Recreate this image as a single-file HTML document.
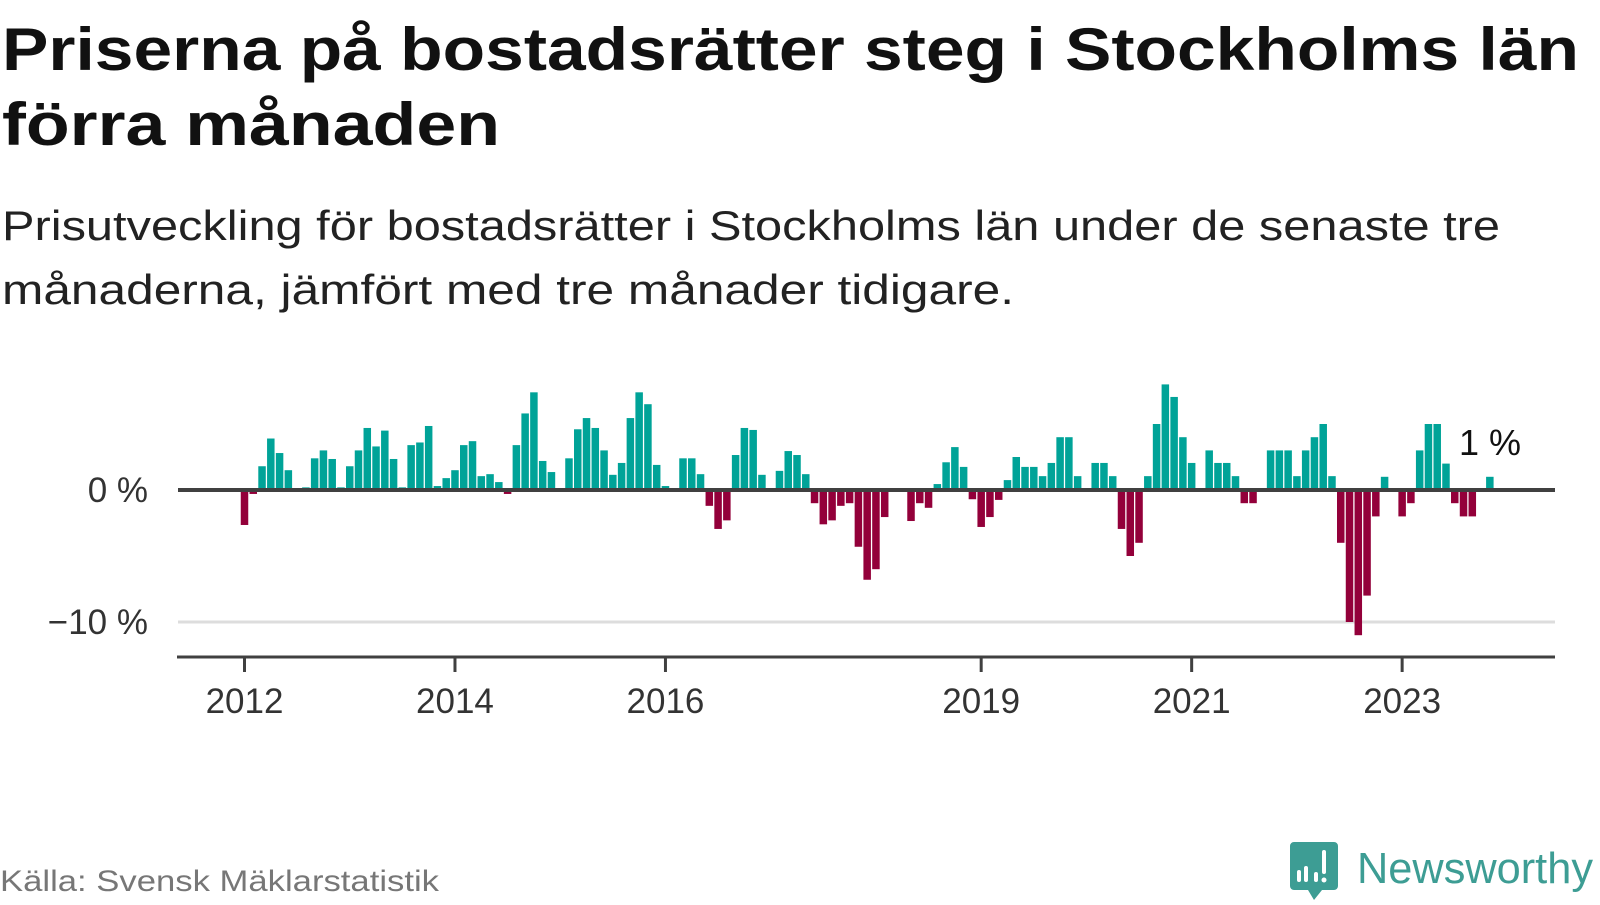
<!DOCTYPE html>
<html><head><meta charset="utf-8"><style>
html,body{margin:0;padding:0;background:#fff;}
body{width:1600px;height:900px;overflow:hidden;font-family:"Liberation Sans",sans-serif;}
svg text{font-family:"Liberation Sans",sans-serif;}
</style></head><body>
<svg id="chart" width="1600" height="900" viewBox="0 0 1600 900" xmlns="http://www.w3.org/2000/svg">
<text x="2" y="70" font-size="60" font-weight="bold" fill="#111" textLength="1577" lengthAdjust="spacingAndGlyphs">Priserna på bostadsrätter steg i Stockholms län</text>
<text x="2" y="145" font-size="60" font-weight="bold" fill="#111" textLength="498" lengthAdjust="spacingAndGlyphs">förra månaden</text>
<text x="2" y="240" font-size="42" fill="#222" textLength="1498" lengthAdjust="spacingAndGlyphs">Prisutveckling för bostadsrätter i Stockholms län under de senaste tre</text>
<text x="2" y="304" font-size="42" fill="#222" textLength="1012" lengthAdjust="spacingAndGlyphs">månaderna, jämfört med tre månader tidigare.</text>
<g id="grid"></g>
<g id="bars"></g>
<g id="axes"></g>
<text x="1459" y="455" font-size="36" fill="#111">1 %</text>
<text x="0" y="891" font-size="30" fill="#777" textLength="439" lengthAdjust="spacingAndGlyphs">Källa: Svensk Mäklarstatistik</text>
<g>
<path d="M1294 842 h40 a4 4 0 0 1 4 4 v40 a4 4 0 0 1 -4 4 h-12 l-8 10 l-6 -10 h-14 a4 4 0 0 1 -4 -4 v-40 a4 4 0 0 1 4 -4z" fill="#3d9d94"/>
<rect x="1297" y="870" width="4" height="12" rx="2" fill="#fff"/>
<rect x="1304" y="866" width="4" height="16" rx="2" fill="#fff"/>
<rect x="1314" y="872" width="4" height="10" rx="2" fill="#fff"/>
<rect x="1322" y="850" width="4" height="24" rx="2" fill="#fff"/>
<circle cx="1324" cy="880" r="2.5" fill="#fff"/>
<text x="1357" y="883" font-size="44" fill="#3d9d94" textLength="236" lengthAdjust="spacingAndGlyphs">Newsworthy</text>
</g>
</svg>
<script>
const values = [-2.65,-0.3,1.8,3.9,2.8,1.5,0,0.2,2.4,3.0,
2.35,0.2,1.8,3.0,4.7,3.3,4.5,2.35,0.2,3.4,
3.6,4.85,0.3,0.9,1.5,3.4,3.7,1.05,1.2,0.6,
-0.3,3.4,5.8,7.4,2.2,1.36,0,2.4,4.6,5.45,
4.7,3.0,1.15,2.05,5.45,7.4,6.5,1.9,0.3,0,
2.4,2.4,1.2,-1.2,-2.95,-2.3,2.65,4.7,4.55,1.15,
0,1.45,2.95,2.65,1.2,-1.0,-2.6,-2.3,-1.2,-1.0,
-4.3,-6.8,-6.0,-2.05,0,0,-2.35,-1.0,-1.35,0.45,
2.1,3.25,1.75,-0.7,-2.8,-2.05,-0.75,0.75,2.5,1.75,
1.75,1.05,2.05,4.0,4.0,1.05,0,2.05,2.05,1.05,
-2.95,-5.0,-4.0,1.05,5.0,8.0,7.05,4.0,2.05,0,
3,2.05,2.05,1.05,-1,-1,0,3,3,3,
1.05,3,4,5,1.05,-4,-10,-11,-8,-2,
1,0,-2,-1,3,5,5,2,-1,-2,
-2,0,1];
const startYear = 2012;
const tickYears = [2012,2014,2016,2019,2021,2023];
const yTicks = [0,-10];
const yTickLabels = ["0 %","\u221210 %"];

const NS = "http://www.w3.org/2000/svg";
const x0 = 244.5, monthW = 8.77, zeroY = 490, pxPer = 13.2;
function xScale(i){ return x0 + i*monthW; }
function yScale(v){ return zeroY - v*pxPer; }
function mk(tag, attrs, parent){
  const e = document.createElementNS(NS, tag);
  for (const k in attrs) e.setAttribute(k, attrs[k]);
  parent.appendChild(e); return e;
}
const grid = document.getElementById('grid');
const bars = document.getElementById('bars');
const axes = document.getElementById('axes');

yTicks.forEach((t, i) => {
  if (t !== 0) {
    const g = mk('line', {x1:178, x2:1555, y1:yScale(t), y2:yScale(t), stroke:'#dddddd', 'stroke-width':3}, grid);
    
    
  }
  const l = mk('text', {x:148, y:yScale(t)+12, 'font-size':35, fill:'#333', 'text-anchor':'end'}, axes);
  l.textContent = yTickLabels[i];
  
  
});

values.forEach((v, i) => {
  if (v === 0) return;
  const y = v > 0 ? yScale(v) : zeroY;
  const r = mk('rect', {x:xScale(i)-3.75, y:y, width:7.5, height:Math.abs(v)*pxPer, fill: v > 0 ? '#00a398' : '#93003a'}, bars);
  
  
});

const zl = mk('line', {x1:178, x2:1555, y1:zeroY, y2:zeroY, stroke:'#404040', 'stroke-width':4}, axes);


const xa = mk('line', {x1:177, x2:1555, y1:657, y2:657, stroke:'#404040', 'stroke-width':3}, axes);



tickYears.forEach(yr => {
  const x = xScale((yr - startYear)*12);
  const t = mk('line', {x1:x, x2:x, y1:657, y2:672, stroke:'#404040', 'stroke-width':3}, axes);
  
  
  const l = mk('text', {x:x, y:713, 'font-size':35, fill:'#333', 'text-anchor':'middle'}, axes);
  l.textContent = yr;
  
  
});
</script>
</body></html>
